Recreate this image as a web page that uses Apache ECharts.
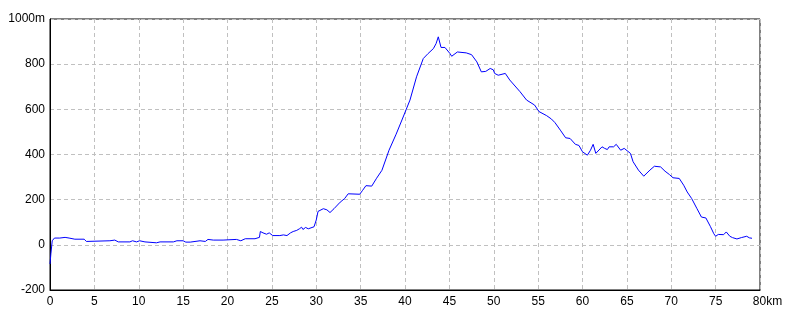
<!DOCTYPE html>
<html>
<head>
<meta charset="utf-8">
<script src="https://cdn.jsdelivr.net/npm/echarts@6/dist/echarts.min.js"></script>
<style>
html,body{margin:0;padding:0;background:#fff;}
#c{width:800px;height:320px;}
</style>
</head>
<body>
<div id="c"></div>
<script>
const distanceKm = [0,0.1,0.25,0.5,1.1,1.3,1.7,1.9,2.15,2.8,3.0,3.85,4.1,4.3,6.75,7.3,7.7,9.0,9.3,9.75,10.1,10.3,10.7,12.0,12.4,13.9,14.3,15.0,15.3,15.8,16.9,17.5,17.8,18.4,19.5,21.0,21.5,22.0,23.1,23.6,23.7,24.0,24.4,24.7,25.1,25.9,26.3,26.7,27.1,27.4,27.8,28.1,28.35,28.5,28.8,29.1,29.3,29.75,30.0,30.2,30.8,31.2,31.55,32.0,32.7,33.2,33.6,34.9,35.2,35.6,36.25,36.8,37.4,38.2,39.0,39.7,40.56,41.3,42.06,42.6,43.2,43.5,43.75,44.06,44.5,45.07,45.26,45.9,46.9,47.5,48.1,48.6,49.1,49.6,49.95,50.1,50.5,51.3,51.8,52.96,53.7,54.6,55.1,55.96,56.5,56.9,57.5,58.1,58.6,59.2,59.6,60.0,60.55,60.9,61.2,61.5,62.2,62.5,62.8,63.0,63.5,63.8,64.3,64.7,65.4,65.7,66.3,66.9,67.6,68.1,68.8,69.3,69.8,70.2,70.9,71.4,71.8,72.3,72.9,73.4,73.9,74.4,74.8,75.0,75.3,75.9,76.2,76.6,76.9,77.4,77.9,78.5,78.8,79.1];
const elevationM = [-85,-40,18,30,30,25,33,36,30,25,22,25,15,18,18,21,13,13,18,13,18,25,13,9,13,13,18,18,12,12,18,15,24,21,21,24,18,27,27,33,59,53,47,53,41,41,44,41,53,59,64,71,78,68,77,71,78,80,110,148,160,155,143,160,189,205,226,224,240,262,260,295,330,419,490,557,641,744,825,847,869,891,921,874,874,847,835,854,850,842,810,766,768,781,775,759,751,759,730,678,641,619,590,572,557,541,508,474,471,445,440,412,397,419,445,405,434,427,422,434,434,445,419,427,405,368,331,304,331,348,345,326,311,297,294,264,234,205,160,123,119,82,49,38,46,45,57,38,32,26,32,38,31,29];
const xTicks = {min:0, max:80, interval:5, unit:'km'};
const yTicks = {min:-200, max:1000, interval:200, unit:'m'};

const chart = echarts.init(document.getElementById('c'), null, {renderer:'canvas'});
const fontFamily = '"Liberation Sans", "DejaVu Sans", sans-serif';
const gridLine = {show:true, lineStyle:{color:'#c0c0c0', type:[4,3], width:1}};
chart.setOption({
  animation:false,
  backgroundColor:'#ffffff',
  grid:{left:50, right:40, top:19, bottom:30, show:true, borderColor:'#000', borderWidth:1, backgroundColor:'transparent'},
  xAxis:{
    type:'value', min:xTicks.min, max:xTicks.max, interval:xTicks.interval,
    axisLine:{show:true, onZero:false, lineStyle:{color:'#000', width:1}},
    axisTick:{show:false},
    splitLine:gridLine,
    axisLabel:{
      color:'#000', fontFamily, fontSize:12, margin:6,
      formatter:v => v === xTicks.max ? '{n|' + v + '}{u|' + xTicks.unit + '}' : String(v),
      rich:{n:{padding:[0,0,0,15], fontFamily, fontSize:12, color:'#000'}, u:{fontFamily, fontSize:12, color:'#000'}}
    }
  },
  yAxis:{
    type:'value', min:yTicks.min, max:yTicks.max, interval:yTicks.interval,
    axisLine:{show:true, onZero:false, lineStyle:{color:'#000', width:1}},
    axisTick:{show:false},
    splitLine:gridLine,
    axisLabel:{
      color:'#000', fontFamily, fontSize:12, margin:5,
      formatter:v => v === yTicks.max ? v + yTicks.unit : String(v)
    }
  },
  series:[{
    type:'line',
    data:distanceKm.map((d,i)=>[d, elevationM[i]]),
    showSymbol:false, smooth:false,
    lineStyle:{color:'#0000ff', width:1},
    itemStyle:{color:'#0000ff'},
    silent:true
  }]
});
</script>
</body>
</html>
